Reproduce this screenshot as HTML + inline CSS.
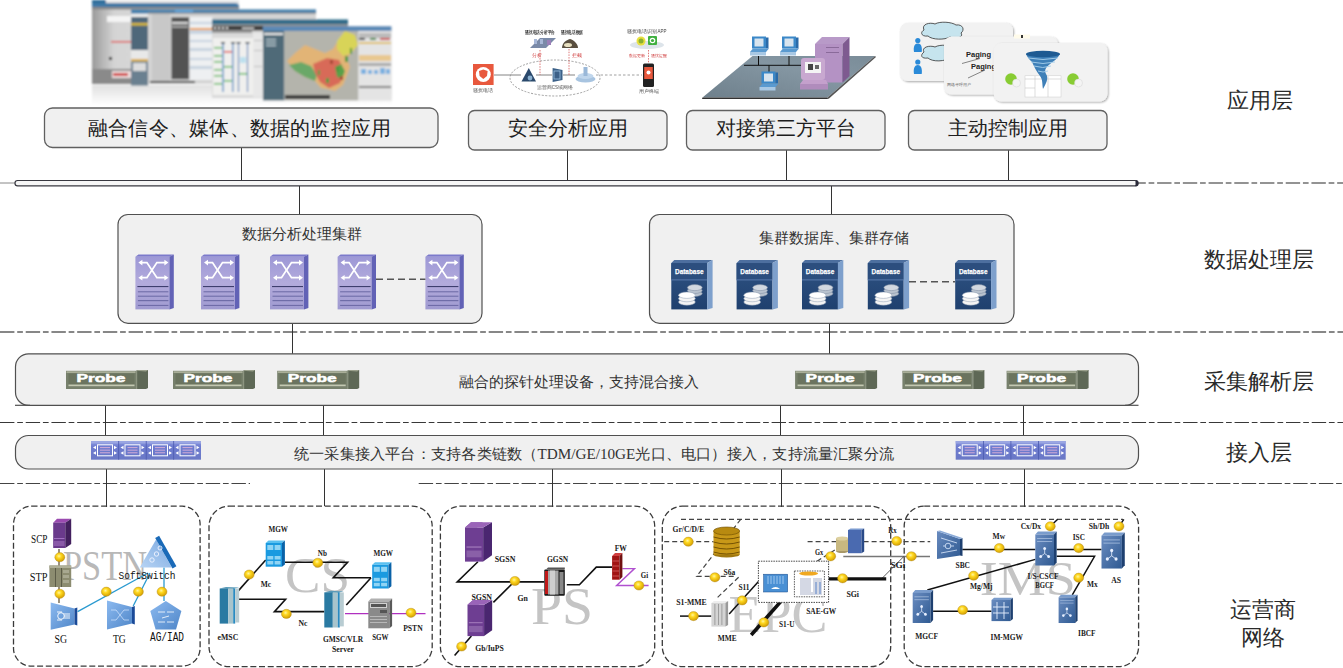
<!DOCTYPE html>
<html><head><meta charset="utf-8">
<style>
html,body{margin:0;padding:0;background:#fff;width:1343px;height:668px;overflow:hidden}
svg{display:block}
.sans{font-family:"Liberation Sans",sans-serif}
.serif{font-family:"Liberation Serif",serif}
</style></head><body>
<svg width="1343" height="668" viewBox="0 0 1343 668">
<defs>
<linearGradient id="swf" x1="0" y1="0" x2="0" y2="1"><stop offset="0" stop-color="#9d98d6"/><stop offset="0.5" stop-color="#b3abdc"/><stop offset="1" stop-color="#9f9ad0"/></linearGradient>
<linearGradient id="dbf" x1="0" y1="0" x2="0" y2="1"><stop offset="0" stop-color="#2f5384"/><stop offset="1" stop-color="#1f406e"/></linearGradient>
<linearGradient id="acf" x1="0" y1="0" x2="0" y2="1"><stop offset="0" stop-color="#8d9ae0"/><stop offset="0.3" stop-color="#6e7cd0"/><stop offset="1" stop-color="#6a78c6"/></linearGradient>
<g id="sw">
<polygon points="0,2.4 3,0 38.4,0 34,2.4" fill="#7c7acb"/>
<rect x="0" y="2.4" width="34" height="52.6" fill="url(#swf)"/>
<polygon points="34,2.4 38.4,0 38.4,53.6 34,55" fill="#6262b6"/>
<g stroke="#fff" stroke-width="1.8" fill="none">
<path d="M5,8.2 H11.5 L21.5,23.3 H31"/>
<path d="M5,23.3 H11.5 L21.5,8.2 H31"/>
</g>
<g fill="#fff">
<polygon points="3,8.2 7,5.4 7,11"/><polygon points="33,8.2 29,5.4 29,11"/>
<polygon points="3,23.3 7,20.5 7,26.1"/><polygon points="33,23.3 29,20.5 29,26.1"/>
</g>
<rect x="2" y="31.6" width="31" height="1.1" fill="#3e3e6e"/>
<g fill="#6a68a4"><rect x="2.5" y="36.9" width="30.5" height="1"/><rect x="2.5" y="41.3" width="30.5" height="1"/><rect x="2.5" y="45.7" width="30.5" height="1.1"/><rect x="2.5" y="50.5" width="30.5" height="1"/></g>
</g>
<g id="db">
<polygon points="0,3.1 3,0 41.3,0 35.9,3.1" fill="#4d6f9f"/>
<rect x="0" y="3.1" width="35.9" height="46.3" fill="url(#dbf)"/>
<rect x="0" y="3.1" width="35.9" height="16.6" fill="#2c4e7e"/>
<rect x="0" y="19.4" width="35.9" height="1" fill="#5a7aac"/>
<polygon points="35.9,3.1 41.3,0 41.3,48 35.9,49.4" fill="#7ea0cc"/>
<text x="18" y="14.3" font-family="Liberation Sans,sans-serif" font-weight="bold" font-size="7.6" stroke="#fff" stroke-width="0.25" textLength="28.5" lengthAdjust="spacingAndGlyphs" fill="#fff" text-anchor="middle">Database</text>
<g fill="#b9c3cf" stroke="#7c8aa0" stroke-width="0.5"><ellipse cx="23.5" cy="33.5" rx="7.4" ry="3"/><ellipse cx="23.5" cy="30.5" rx="7.4" ry="3"/><ellipse cx="23.5" cy="27.6" rx="7.4" ry="3" fill="#d2d8e0"/></g>
<g fill="#f4f4f4" stroke="#8a9ab0" stroke-width="0.5"><ellipse cx="15.6" cy="42" rx="8.4" ry="3.2"/><ellipse cx="15.6" cy="38.6" rx="8.4" ry="3.2"/><ellipse cx="15.6" cy="35.2" rx="8.4" ry="3.2" fill="#fff"/></g>
</g>
<g id="probe">
<rect x="0" y="0.8" width="70" height="18.2" fill="#77806c"/>
<rect x="0.5" y="1.3" width="69" height="1.6" fill="#aeb39e"/>
<rect x="2.5" y="3.5" width="66" height="10.5" fill="#6b745f"/>
<rect x="2.5" y="14.6" width="66" height="1.6" fill="#c4c8b2"/>
<polygon points="70,0.8 72,0 82,0 82,18 80,19 70,19" fill="#5e6856"/><polygon points="70,0.8 72,0 82,0 80,1.5" fill="#9aa08c"/><rect x="70" y="1" width="1.2" height="18" fill="#8c9480"/>
<text x="35" y="11.6" font-family="Liberation Sans,sans-serif" font-weight="bold" font-size="11" stroke="#fff" stroke-width="0.5" textLength="49" lengthAdjust="spacingAndGlyphs" fill="#fff" text-anchor="middle">Probe</text>
</g>
<g id="acu">
<rect x="6" y="3.8" width="15" height="11" fill="none" stroke="#fff" stroke-width="1"/>
<g fill="#c9a6d6"><rect x="8.5" y="6" width="10" height="1.1"/><rect x="8.5" y="8.6" width="10" height="1.1"/><rect x="8.5" y="11.2" width="10" height="1.1"/></g>
<g fill="#fff"><polygon points="1.5,6.5 4.5,4.8 4.5,8.2"/><polygon points="1.5,12 4.5,10.3 4.5,13.7"/><polygon points="25.5,6.5 22.5,4.8 22.5,8.2"/><polygon points="25.5,12 22.5,10.3 22.5,13.7"/></g>
</g>
<g id="acc">
<rect x="0" y="0" width="110" height="18.7" fill="url(#acf)"/>
<rect x="0" y="0" width="110" height="2.5" fill="#9aa6e2"/>
<rect x="27.3" y="0" width="0.8" height="18.7" fill="#4c5ab0"/><rect x="54.8" y="0" width="0.8" height="18.7" fill="#4c5ab0"/><rect x="82.3" y="0" width="0.8" height="18.7" fill="#4c5ab0"/>
<use href="#acu" x="0.5" y="0"/><use href="#acu" x="28" y="0"/><use href="#acu" x="55.5" y="0"/><use href="#acu" x="83" y="0"/>
</g>
<radialGradient id="gold" cx="0.42" cy="0.38" r="0.65"><stop offset="0" stop-color="#fff6a0"/><stop offset="0.35" stop-color="#ffd820"/><stop offset="1" stop-color="#d09a00"/></radialGradient>
<g id="dot"><ellipse cx="0" cy="0" rx="5" ry="4.6" fill="url(#gold)" stroke="#b08a20" stroke-width="0.4"/></g>
<linearGradient id="sgf" x1="0" y1="0" x2="1" y2="1"><stop offset="0" stop-color="#8cbaf0"/><stop offset="1" stop-color="#4f86c8"/></linearGradient>
<linearGradient id="imsf" x1="0" y1="0" x2="1" y2="1"><stop offset="0" stop-color="#6a8cc0"/><stop offset="1" stop-color="#2f5a92"/></linearGradient>
<g id="psrv">
<polygon points="0,3.9 4,0 12,0 8,3.9" fill="#8a5aaa"/>
<rect x="0" y="3.9" width="12.1" height="25.3" fill="#6e3e92"/>
<polygon points="12.1,3.9 18,0 18,24.5 12.1,29.2" fill="#4a2670"/>
<polygon points="0,3.9 4,0 18,0 12.1,3.9" fill="#9a64b8"/>
<rect x="1" y="18" width="10" height="0.8" fill="#a880c0"/><rect x="1" y="21" width="10" height="5" fill="#8a60a8"/>
</g>
<g id="ims">
<polygon points="0,3 3,0 24,0 21,3" fill="#7a9ccc"/>
<rect x="0" y="3" width="21" height="31" fill="url(#imsf)"/>
<polygon points="21,3 24,0 24,31 21,34" fill="#1e4070"/>
<g stroke="#b8cce8" stroke-width="0.7"><line x1="2" y1="7" x2="19" y2="7"/><line x1="2" y1="10" x2="19" y2="10"/></g>
<g fill="#e8f0ff"><circle cx="10.5" cy="17" r="1.6"/><circle cx="6" cy="25" r="1.6"/><circle cx="15" cy="25" r="1.6"/></g>
<path d="M10.5,18 V22 L6,25 M10.5,22 L15,25" stroke="#e8f0ff" stroke-width="0.8" fill="none"/>
</g>
</defs>
<!-- layer dashed separators -->
<g stroke-dasharray="14.4 2.8 5.7 2.82" fill="none">
<line x1="1131.4" y1="183" x2="1343" y2="183" stroke="#707070" stroke-width="1.6"/>
<line x1="0" y1="332" x2="1343" y2="332" stroke="#606060" stroke-width="1.6"/>
<line x1="0" y1="422.5" x2="1343" y2="422.5" stroke="#383838" stroke-width="1.2"/>
<line x1="0" y1="483.5" x2="250" y2="483.5" stroke="#444" stroke-width="1.2"/>
<line x1="418.7" y1="483.5" x2="1343" y2="483.5" stroke="#444" stroke-width="1.2"/>
</g>
<!-- connectors -->
<g stroke="#333" stroke-width="1">
<line x1="0" y1="183" x2="15" y2="183" stroke="#888"/>
<line x1="241.5" y1="148" x2="241.5" y2="180"/>
<line x1="567.5" y1="150" x2="567.5" y2="180"/>
<line x1="786.5" y1="150" x2="786.5" y2="180"/>
<line x1="1008.5" y1="150" x2="1008.5" y2="180"/>
<line x1="299.5" y1="186" x2="299.5" y2="214"/>
<line x1="831.5" y1="186" x2="831.5" y2="214"/>
<line x1="292.5" y1="323" x2="292.5" y2="354"/>
<line x1="829.5" y1="323" x2="829.5" y2="354"/>
<line x1="105.5" y1="405" x2="105.5" y2="436"/>
<line x1="323.5" y1="405" x2="323.5" y2="436"/>
<line x1="780.5" y1="405" x2="780.5" y2="436"/>
<line x1="1023.5" y1="405" x2="1023.5" y2="436"/>
<line x1="106.5" y1="469" x2="106.5" y2="507"/>
<line x1="324.5" y1="469" x2="324.5" y2="506"/>
<line x1="552.5" y1="469" x2="552.5" y2="507"/>
<line x1="781.5" y1="469" x2="781.5" y2="507"/>
<line x1="1024.5" y1="469" x2="1024.5" y2="507"/>
</g>
<!-- top images -->
<filter id="blr" x="-5%" y="-5%" width="110%" height="110%"><feGaussianBlur stdDeviation="0.8"/></filter>
<linearGradient id="refl" x1="0" y1="0" x2="0" y2="1"><stop offset="0" stop-color="#d8d8d8"/><stop offset="1" stop-color="#ffffff"/></linearGradient>
<linearGradient id="w1g" x1="0" y1="0" x2="1" y2="0"><stop offset="0" stop-color="#9a9a9a"/><stop offset="0.15" stop-color="#d4d4d4"/><stop offset="1" stop-color="#e4e4e4"/></linearGradient>
<g filter="url(#blr)">
<!-- reflections -->
<rect x="92" y="85" width="300" height="20" fill="url(#refl)" opacity="0.8"/>
<!-- window1 -->
<rect x="92" y="0" width="147" height="84" fill="url(#w1g)"/>
<rect x="92" y="0" width="147" height="3" fill="#e8e8e8"/><path d="M92,3 H235 Q239,3 239,7 H92 Z" fill="#3d78a6"/>
<rect x="92" y="0" width="14" height="3" fill="#2a6a98"/>
<rect x="92" y="7" width="147" height="2.5" fill="#888"/>
<rect x="92" y="69" width="40" height="15" fill="#8a8a8a"/>
<rect x="112" y="71" width="19" height="7" fill="#f0e0e0"/><rect x="113" y="73" width="15" height="3" fill="#d04040"/>
<rect x="111" y="41" width="22" height="1.5" fill="#e05050"/>
<rect x="107" y="16" width="24" height="6" fill="#f4f4f4"/>
<rect x="109" y="57" width="3" height="3" fill="#222"/>
<!-- slate panel -->
<rect x="131" y="14" width="17" height="36" fill="#50687a"/>
<rect x="131" y="14" width="17" height="3" fill="#eee"/>
<rect x="131" y="23" width="17" height="2.5" fill="#d8b830"/>
<rect x="131" y="50" width="17" height="9" fill="#e8e8e8"/>
<rect x="131" y="59" width="17" height="2.5" fill="#e0b030"/>
<rect x="131" y="61.5" width="17" height="24" fill="#6b8090"/>
<rect x="133" y="63" width="13" height="8" fill="#ddd"/>
<!-- window2 -->
<rect x="148" y="9.5" width="168" height="74" fill="#d4d4d4"/>
<rect x="131" y="9.5" width="185" height="4" fill="#3f7fae"/><rect x="175" y="9.5" width="18" height="3" fill="#5aa0d8"/>
<rect x="148" y="12.5" width="168" height="1.5" fill="#999"/>
<rect x="152" y="14" width="18" height="68" fill="#c8c8c8"/>
<rect x="171.4" y="17.3" width="18" height="62" fill="#535353"/>
<rect x="172" y="22" width="16" height="2" fill="#ddd"/><rect x="172" y="26" width="16" height="1.5" fill="#bbb"/>
<rect x="189.5" y="17" width="23" height="63" fill="#eef0f2"/>
<g fill="#c8d4e0"><rect x="190" y="22" width="22" height="2"/><rect x="190" y="30" width="22" height="4"/><rect x="190" y="40" width="22" height="2"/><rect x="190" y="48" width="22" height="3"/><rect x="190" y="58" width="22" height="2"/><rect x="190" y="66" width="22" height="3"/></g>
<rect x="190" y="28" width="22" height="2" fill="#f0a040"/>
<rect x="150" y="81" width="45" height="2" fill="#444"/>
<!-- window4 -->
<rect x="212" y="20" width="136" height="78" fill="#dadada"/>
<rect x="212" y="19.5" width="136" height="5" fill="#2e6a88"/>
<rect x="212" y="24.5" width="136" height="1.5" fill="#888"/>
<rect x="212" y="26" width="136" height="4.5" fill="#3c3c3c"/>
<g fill="#ddd"><rect x="214" y="27" width="2" height="2"/><rect x="218" y="27" width="2" height="2"/><rect x="222" y="27" width="2" height="2"/><rect x="226" y="27" width="2" height="2"/><rect x="242" y="27.5" width="12" height="1.5"/></g>
<rect x="212" y="31" width="40" height="2" fill="#999"/>
<rect x="213" y="38" width="40" height="57" fill="#f0f0ee"/>
<g stroke="#2a70b8" stroke-width="1.1"><line x1="223" y1="42.7" x2="223" y2="92"/><line x1="232.8" y1="42.7" x2="232.8" y2="92"/><line x1="238.5" y1="42.7" x2="238.5" y2="92"/><line x1="247.5" y1="42.7" x2="247.5" y2="92"/></g>
<g fill="#333"><rect x="221" y="42" width="4" height="1.5"/><rect x="231" y="42" width="4" height="1.5"/><rect x="236.5" y="42" width="4" height="1.5"/><rect x="245.5" y="42" width="4" height="1.5"/></g>
<g fill="#58b858"><rect x="214" y="47" width="8" height="1.5"/><rect x="214" y="55" width="8" height="1.5"/><rect x="214" y="61" width="8" height="1.5"/><rect x="214" y="69" width="8" height="1.5"/><rect x="214" y="75" width="8" height="1.5"/><rect x="214" y="83" width="8" height="1.5"/><rect x="224" y="66" width="8" height="1.5"/><rect x="239" y="73" width="8" height="1.5"/><rect x="224" y="80" width="8" height="1.5"/></g>
<rect x="224" y="51" width="8" height="1.5" fill="#e04040"/>
<rect x="240" y="57" width="6" height="6" fill="#bde0ee"/>
<rect x="253" y="33" width="10" height="64" fill="#e8e8e8"/>
<g fill="#bbb"><rect x="254" y="40" width="8" height="1"/><rect x="254" y="50" width="8" height="1"/><rect x="254" y="66" width="8" height="1"/></g>
<!-- map window -->
<rect x="263" y="26.3" width="128.4" height="74" fill="#dcdcdc"/>
<rect x="263" y="26.3" width="128.4" height="5" fill="#5a88b6"/>
<rect x="263" y="31" width="21.4" height="69.4" fill="#4f6a78"/>
<rect x="264" y="33" width="19" height="2" fill="#e8e8e8"/>
<g fill="#c8d8e0"><rect x="266" y="39" width="10" height="1"/><rect x="266" y="42" width="10" height="1"/><rect x="266" y="45" width="10" height="1"/></g>
<rect x="284.4" y="31" width="74" height="69.4" fill="#b4b4ac"/>
<polygon points="287.0,61.0 295.0,53.0 305.0,45.0 315.0,49.0 325.0,53.0 333.0,49.0 339.0,39.0 345.0,31.0 355.0,35.0 358.0,45.0 351.0,53.0 347.0,59.0 350.0,67.0 347.0,75.0 343.0,85.0 335.0,91.0 327.0,89.0 321.0,88.0 315.0,81.0 305.0,77.0 295.0,71.0" fill="#e2b476"/>
<polygon points="289.0,65.0 301.0,62.0 311.0,66.0 317.0,75.0 315.0,81.0 305.0,77.0 295.0,71.0" fill="#6aa868"/>
<polygon points="313.0,64.0 327.0,58.0 339.0,60.0 344.0,71.0 340.0,83.0 329.0,88.0 320.0,82.0 315.0,73.0" fill="#d86a58"/>
<polygon points="337.0,41.0 345.0,31.0 355.0,35.0 358.0,45.0 351.0,53.0 343.0,56.0 337.0,49.0" fill="#d8d458"/>
<polygon points="335.0,67.0 341.0,64.0 345.0,71.0 342.0,79.0 337.0,77.0" fill="#5aa048"/>
<g fill="#4c9a40"><rect x="336" y="66" width="3" height="6"/><rect x="345" y="56" width="3" height="6"/><rect x="326" y="78" width="3" height="5"/><rect x="350" y="48" width="2" height="6"/><rect x="318" y="70" width="2" height="5"/></g>
<g fill="#a84838"><rect x="330" y="60" width="3" height="4"/><rect x="340" y="76" width="3" height="4"/></g>
<rect x="285" y="95" width="45" height="4" fill="#3a3a3a"/>
<rect x="358.4" y="31" width="33" height="69.4" fill="#e4e4e4"/>
<rect x="359" y="33" width="32" height="5" fill="#bbb"/>
<rect x="359" y="38" width="6" height="2" fill="#333"/><rect x="370" y="38" width="6" height="2" fill="#3a8a3a"/><rect x="380" y="38" width="10" height="2" fill="#d04040"/>
<rect x="359" y="42" width="32" height="2" fill="#e0c060"/>
<rect x="359" y="55" width="32" height="6" fill="#e8c890"/>
<rect x="359" y="63" width="32" height="3" fill="#aaa"/>
<g fill="#7ab0e0"><rect x="361" y="69" width="5" height="5"/><rect x="368" y="70" width="4" height="4"/><rect x="374" y="70" width="4" height="4"/><rect x="380" y="68" width="5" height="6"/><rect x="386" y="69" width="4" height="5"/></g>
<rect x="359" y="86" width="32" height="2" fill="#777"/>
</g>
<!-- security image -->
<filter id="blr2" x="-5%" y="-5%" width="110%" height="110%"><feGaussianBlur stdDeviation="0.45"/></filter>
<g filter="url(#blr2)">
<rect x="473" y="64" width="20.6" height="21" fill="#e8583c"/>
<circle cx="483.3" cy="74.5" r="7.5" fill="#fff"/>
<path d="M479,71 L483.3,69.5 L487.6,71 L487,76 L483.3,79 L479.6,76 Z" fill="#e8583c"/>
<text x="483" y="92" font-family="Liberation Sans,sans-serif" font-size="4.5" fill="#555" text-anchor="middle">骚扰电话</text>
<line x1="494" y1="75" x2="521" y2="75" stroke="#666" stroke-width="0.8"/>
<ellipse cx="555" cy="78" rx="45" ry="18" fill="none" stroke="#888" stroke-width="0.8" stroke-dasharray="2 1.5"/>
<polygon points="521.5,81.5 528.8,68 536,81.5" fill="#2c4a6c"/>
<circle cx="530" cy="78" r="2.4" fill="#8ab0d0"/>
<line x1="536" y1="75" x2="552" y2="75" stroke="#666" stroke-width="0.8"/>
<polygon points="552.6,68 562.5,70 562.5,80 552.6,82" fill="#3a6088"/>
<rect x="554" y="71" width="6" height="8" fill="none" stroke="#9cc0e0" stroke-width="0.8"/>
<line x1="563" y1="75" x2="575" y2="75" stroke="#666" stroke-width="0.8"/>
<ellipse cx="585.5" cy="79" rx="10" ry="3.5" fill="#a8c4e0"/>
<ellipse cx="585.5" cy="76" rx="8" ry="3" fill="#c0d6ec"/>
<rect x="583.5" y="67" width="4" height="9" fill="#9ab8d8"/>
<line x1="596" y1="75" x2="642" y2="75" stroke="#888" stroke-width="0.8" stroke-dasharray="2.5 2"/>
<text x="555" y="88.5" font-family="Liberation Sans,sans-serif" font-size="4.5" fill="#555" text-anchor="middle">运营商CS域网络</text>
<polygon points="530,48 540,38 556,38 546,48" fill="#7a8aa8"/>
<rect x="534" y="39" width="3" height="5" fill="#a8b8d8"/><rect x="540" y="39" width="3" height="5" fill="#a8b8d8"/><rect x="547" y="40" width="4" height="5" fill="#9a80b8"/>
<path d="M562,48 C562,43 566,40 570,39 C574,40 578,44 578,48 Z" fill="#5a5040"/>
<ellipse cx="568" cy="45" rx="4" ry="2" fill="#e8e0c0"/>
<text x="540" y="34" font-family="Liberation Sans,sans-serif" font-weight="bold" font-size="4.5" fill="#333" text-anchor="middle" textLength="30" lengthAdjust="spacingAndGlyphs">骚扰电话分析平台</text>
<text x="572" y="34" font-family="Liberation Sans,sans-serif" font-weight="bold" font-size="4.5" fill="#333" text-anchor="middle" textLength="22" lengthAdjust="spacingAndGlyphs">骚扰电话数据</text>
<g stroke="#d04040" stroke-width="0.7" stroke-dasharray="1.5 1.2"><line x1="540" y1="50" x2="540" y2="75"/><line x1="569" y1="49" x2="569" y2="75"/><line x1="648.5" y1="50" x2="648.5" y2="63"/></g>
<text x="532" y="57" font-family="Liberation Sans,sans-serif" font-size="4.5" fill="#d04040">分析</text>
<text x="572" y="57" font-family="Liberation Sans,sans-serif" font-size="4.5" fill="#d04040">拦截</text>
<text x="629" y="57" font-family="Liberation Sans,sans-serif" font-size="4.2" fill="#d04040">数据更新</text>
<text x="651" y="57" font-family="Liberation Sans,sans-serif" font-size="4.2" fill="#d04040">骚扰提醒</text>
<rect x="643" y="63.4" width="11" height="23.6" rx="1.5" fill="#222"/>
<rect x="644.2" y="67" width="8.6" height="12" fill="#e8583c"/>
<circle cx="648.5" cy="72.5" r="2" fill="#fff"/>
<text x="648.5" y="93" font-family="Liberation Sans,sans-serif" font-size="4.5" fill="#555" text-anchor="middle">用户终端</text>
<ellipse cx="647" cy="45" rx="17" ry="4" fill="#dde4ea"/>
<circle cx="641" cy="41" r="4.5" fill="#e8e040"/><circle cx="641" cy="41" r="2.5" fill="#8ab030"/>
<rect x="648" y="36" width="9" height="9" rx="1" fill="#40b040"/><circle cx="652.5" cy="40.5" r="2.8" fill="#fff"/><circle cx="652.5" cy="40.5" r="1.6" fill="#40b040"/>
<text x="647" y="33" font-family="Liberation Sans,sans-serif" font-size="4.5" fill="#444" text-anchor="middle">骚扰电话识别APP</text>
</g>
<!-- network image -->
<g filter="url(#blr2)">
<linearGradient id="plat" x1="0" y1="1" x2="1" y2="0"><stop offset="0" stop-color="#6e808c"/><stop offset="0.6" stop-color="#8496a2"/><stop offset="1" stop-color="#7a8c98"/></linearGradient><polygon points="702.5,97.4 827.5,97.4 875,56 752.5,56" fill="url(#plat)"/>
<polygon points="702.5,97.4 827.5,97.4 828,99 702,99" fill="#333"/>
<polygon points="827.5,97.4 875,56 876,57 828.5,99" fill="#555"/>
<line x1="744" y1="65.3" x2="802.5" y2="65.3" stroke="#111" stroke-width="1"/>
<line x1="758.5" y1="56" x2="758.5" y2="65.3" stroke="#111" stroke-width="1"/>
<line x1="789" y1="56" x2="789" y2="65.3" stroke="#111" stroke-width="1"/>
<line x1="769" y1="65.3" x2="769" y2="72" stroke="#111" stroke-width="1"/>
<g id="pc1">
<rect x="752" y="36.5" width="14" height="12" fill="#3a88c8"/>
<rect x="754.5" y="38.5" width="9" height="8" fill="#d8e4ee"/>
<rect x="766" y="37.5" width="2.5" height="11" fill="#2a6aa8"/>
<polygon points="750,52 753,48.5 769,48.5 766,52" fill="#5a9ad0"/>
<rect x="750" y="52" width="16" height="3.5" fill="#a8c8e4"/>
</g>
<use href="#pc1" x="30" y="0"/>
<use href="#pc1" x="9.5" y="35"/>
<polygon points="815,44 822,37 849.5,37 842.5,44" fill="#b89ac8"/>
<rect x="815" y="44" width="27.5" height="38.5" fill="#b492c4"/>
<polygon points="842.5,44 849.5,37 849.5,76 842.5,82.5" fill="#7e5a90"/>
<rect x="826" y="47" width="13" height="1" fill="#8a6a9a"/><rect x="826" y="52" width="13" height="1" fill="#8a6a9a"/>
<rect x="801" y="58" width="24" height="22" rx="3" fill="#c8a8d0"/>
<rect x="805" y="62" width="16" height="11" fill="#f4f4f4"/>
<rect x="808" y="64" width="5" height="6" fill="#444"/><rect x="815" y="65" width="4" height="4" fill="#666"/>
<polygon points="800,84 803,80 826,80 828,84" fill="#c4a0cc"/>
<rect x="800" y="84" width="28" height="5.5" fill="#b08cbc"/>
</g>
<!-- cards image -->
<filter id="shd" x="-10%" y="-10%" width="130%" height="130%"><feGaussianBlur in="SourceAlpha" stdDeviation="1.2"/><feOffset dx="0.5" dy="1"/><feComponentTransfer><feFuncA type="linear" slope="0.35"/></feComponentTransfer><feMerge><feMergeNode/><feMergeNode in="SourceGraphic"/></feMerge></filter>
<g>
<rect x="900" y="22.7" width="113" height="58.3" rx="8" fill="#f2f2f2" filter="url(#shd)"/>
<path d="M924,30 C921,24 930,22 935,24 C940,21 952,22 956,25 C963,24 965,30 961,33 C964,37 956,40 950,37 C945,40 932,40 928,36 C921,37 920,32 924,30 Z" fill="#c6e4ee" stroke="#333" stroke-width="0.8"/>
<path d="M924,52 C921,47 930,45 935,47 C940,44 952,45 956,48 C960,50 958,56 952,57 C945,62 932,62 928,58 C921,59 920,55 924,52 Z" fill="#c6e4ee" stroke="#333" stroke-width="0.8"/>
<circle cx="917.8" cy="40.5" r="2.6" fill="#2a8ad8"/><path d="M914,52 C913,46 915,43.5 917.8,43.5 C920.6,43.5 922.5,46 921.7,52 Z" fill="#2a8ad8"/>
<circle cx="917.8" cy="62" r="2.6" fill="#2a8ad8"/><path d="M914,74 C913,68 915,65 917.8,65 C920.6,65 922.5,68 921.7,74 Z" fill="#2a8ad8"/>
<rect x="944" y="36.4" width="114" height="58.2" rx="8" fill="#f2f2f2" filter="url(#shd)"/>
<text x="966" y="57" font-family="Liberation Sans,sans-serif" font-weight="bold" font-size="7.5" fill="#222">Paging</text>
<text x="971" y="69" font-family="Liberation Sans,sans-serif" font-weight="bold" font-size="7.5" fill="#222">Paging</text>
<line x1="980" y1="58.5" x2="962" y2="63.5" stroke="#555" stroke-width="0.7"/>
<line x1="985" y1="70" x2="968" y2="78" stroke="#555" stroke-width="0.7"/>
<text x="947" y="86" font-family="Liberation Sans,sans-serif" font-size="4" fill="#666">网络寻呼用户</text>
<rect x="993.6" y="43" width="113.9" height="58.5" rx="8" fill="#f2f2f2" filter="url(#shd)"/>
<rect x="1014" y="34.5" width="16" height="4" fill="#fffbea"/><rect x="1021" y="35" width="2" height="3" fill="#333"/>
<rect x="1025" y="75.8" width="36" height="21.2" fill="#fff" stroke="#ccc" stroke-width="0.5"/>
<g stroke="#bbb" stroke-width="0.5"><line x1="1035" y1="76" x2="1035" y2="97"/><line x1="1048" y1="76" x2="1048" y2="97"/><line x1="1025" y1="79" x2="1061" y2="79"/><line x1="1025" y1="88" x2="1035" y2="88"/></g>
<path d="M1026,54 C1030,51 1056,51 1060,54 C1058,58 1054,61 1050,64 C1046,67 1044,70 1046,74 C1049,78 1046,84 1043,89 C1042,84 1043,80 1040,76 C1036,71 1034,66 1032,62 C1029,59 1027,57 1026,54 Z" fill="#3f80b8"/>
<ellipse cx="1043" cy="54" rx="17" ry="3.2" fill="#1e5a92"/>
<g stroke="#a8d0ec" stroke-width="0.9" fill="none"><path d="M1028,58 Q1043,61 1058,58"/><path d="M1031,62 Q1043,65 1055,62"/><path d="M1034,66 Q1043,69 1051,66"/><path d="M1038,71 Q1043,73 1048,71"/></g>
<circle cx="1011" cy="79" r="5.8" fill="#88cc33"/><circle cx="1016.5" cy="83" r="4" fill="#f4f4f4" stroke="#ccc" stroke-width="0.4"/>
<circle cx="1073" cy="79" r="5.8" fill="#88cc33"/><circle cx="1078.5" cy="83" r="4" fill="#f4f4f4" stroke="#ccc" stroke-width="0.4"/>
</g>
<!-- app boxes -->
<g fill="#f0f0f0" stroke="#606060" stroke-width="1.3">
<rect x="44.5" y="108" width="393.5" height="39.5" rx="8"/>
<rect x="468.5" y="110.5" width="198.5" height="39.5" rx="6"/>
<rect x="686.5" y="110.5" width="198.5" height="39.5" rx="6"/>
<rect x="908.5" y="110.5" width="198.5" height="39.5" rx="6"/>
</g>
<!-- bus bar -->
<rect x="15" y="180.5" width="1122.5" height="5.3" rx="2.6" fill="#f6f6f6" stroke="#383840" stroke-width="1.2"/><path d="M1135.5,180 A3,3 0 0 1 1135.5,186.4 Z" fill="#2a2a3a"/>
<!-- cluster boxes -->
<g fill="#f0f0f0" stroke="#505050" stroke-width="1.2">
<rect x="118" y="214.5" width="364" height="108.8" rx="10"/>
<rect x="649.5" y="214.5" width="364.5" height="108.8" rx="10"/>
<rect x="15.5" y="353.8" width="1123" height="51.5" rx="13"/>
<rect x="15.5" y="435.5" width="1123" height="33.5" rx="13"/>
</g>
<line x1="15" y1="405.3" x2="30" y2="405.3" stroke="#505050" stroke-width="1.2"/><line x1="1125" y1="405.3" x2="1138.5" y2="405.3" stroke="#505050" stroke-width="1.2"/>
<!-- network dashed boxes -->
<g fill="none" stroke="#3a3a3a" stroke-width="1.3" stroke-dasharray="6 2.7">
<rect x="13.5" y="506.2" width="186.6" height="160" rx="18"/>
<rect x="209" y="506.2" width="223.2" height="160.5" rx="20"/>
<rect x="440.4" y="506.2" width="214.3" height="160.5" rx="20"/>
<rect x="662.3" y="506.2" width="228.4" height="160.5" rx="20"/>
<rect x="904.2" y="506.2" width="234.4" height="160.5" rx="20"/>
</g>
<!-- data icons -->
<use href="#sw" x="135.4" y="254.4"/><use href="#sw" x="201" y="254.4"/><use href="#sw" x="270" y="254.4"/><use href="#sw" x="337.6" y="254.4"/><use href="#sw" x="425.4" y="254.4"/>
<line x1="376" y1="279.2" x2="425.4" y2="279.2" stroke="#555" stroke-width="1.5" stroke-dasharray="7 4"/>
<use href="#db" x="671.3" y="260"/><use href="#db" x="736.6" y="260"/><use href="#db" x="802" y="260"/><use href="#db" x="867.8" y="260"/><use href="#db" x="955.2" y="260"/>
<line x1="909" y1="281.8" x2="955" y2="281.8" stroke="#555" stroke-width="1.5" stroke-dasharray="7 4"/>
<use href="#probe" x="66" y="370"/><use href="#probe" x="173" y="370"/><use href="#probe" x="277.2" y="370"/>
<use href="#probe" x="795.1" y="370"/><use href="#probe" x="902.4" y="370"/><use href="#probe" x="1006.6" y="370"/>
<use href="#acc" x="91" y="441"/><use href="#acc" x="955.7" y="441"/>
<!-- PSTN -->
<text x="63" y="580" font-family="Liberation Serif,serif" font-size="43" fill="#b8b8b8" textLength="84" lengthAdjust="spacingAndGlyphs">PSTN</text>
<g stroke="#2a9ad0" stroke-width="1.3" fill="none">
<line x1="77.6" y1="611.6" x2="148" y2="573"/>
<line x1="133.2" y1="606" x2="150" y2="573"/>
<line x1="164" y1="601" x2="164" y2="567.6"/>
</g>
<line x1="59" y1="549" x2="59" y2="603" stroke="#5a4a2a" stroke-width="1.2"/>
<g>
<polygon points="53.2,522.7 57,518.8 71.2,518.8 65.3,522.7" fill="#9a4ab0"/>
<rect x="53.2" y="522.7" width="12.1" height="25.3" fill="#6a3a8c"/>
<polygon points="65.3,522.7 71.2,518.8 71.2,544 65.3,548" fill="#43205e"/>
<rect x="54" y="538" width="10.5" height="1" fill="#a070c0"/><rect x="54" y="541" width="10.5" height="5" fill="#8a5aa8"/>
</g>
<g>
<rect x="49.4" y="565.5" width="21.8" height="21.5" fill="#8c8c70"/>
<rect x="49.4" y="565.5" width="21.8" height="2.5" fill="#b0b098"/>
<g fill="#5c5c48"><rect x="55" y="568" width="1" height="19"/><rect x="61" y="568" width="1" height="19"/></g>
<g fill="#a8a890"><rect x="63" y="570" width="6" height="3"/><rect x="63" y="575" width="6" height="3"/><rect x="63" y="580" width="6" height="3"/></g>
</g>
<polygon points="50.7,602.5 74.5,608.5 74.5,624.5 50.7,629.8" fill="url(#sgf)"/>
<polygon points="74.5,608.5 77.3,607.5 77.3,625.5 74.5,624.5" fill="#1a4a98"/>
<g stroke="#fff" stroke-width="0.9" fill="none"><path d="M57,612 L62,612 M57,620 L62,620"/><circle cx="61" cy="616" r="3.3"/><path d="M65,613 V619 M67,613 V619 M69,613 V619"/></g>
<polygon points="107,600.5 132,607 132,623.5 107,629.4" fill="url(#sgf)"/>
<polygon points="132,607 134.8,606 134.8,624.5 132,623.5" fill="#1a4a98"/>
<path d="M111,610 L116,610 L124,620 L129,620 M111,620 L116,620 L124,610 L129,610" stroke="#d8e8ff" stroke-width="0.7" fill="none"/>
<polygon points="165.8,601 181.4,611 176,629.4 155.6,629.4 150.3,611" fill="url(#sgf)"/>
<g stroke="#fff" stroke-width="0.8"><line x1="158" y1="612" x2="165" y2="612"/><line x1="167" y1="612" x2="174" y2="612"/><line x1="158" y1="622" x2="165" y2="622"/><line x1="167" y1="622" x2="174" y2="622"/><line x1="162" y1="618" x2="169" y2="616"/></g>
<linearGradient id="ssf" x1="0" y1="1" x2="1" y2="0"><stop offset="0" stop-color="#b8d4f4"/><stop offset="1" stop-color="#7aa8e0"/></linearGradient>
<polygon points="139.8,567.6 156.1,539.6 171.8,567.6" fill="url(#ssf)"/>
<polygon points="155.2,538 159.1,535.8 176.4,566.3 172.5,568.5" fill="#1a6ab8"/>
<g fill="none" stroke="#f0f4ff" stroke-width="0.9"><circle cx="152" cy="560" r="2.2"/><circle cx="156.5" cy="554" r="2.2"/><circle cx="160" cy="548" r="2"/></g>
<use href="#dot" x="59.8" y="557.2"/><use href="#dot" x="59.8" y="593.8"/>
<use href="#dot" x="106.3" y="591.7"/><use href="#dot" x="138.4" y="591.7"/><use href="#dot" x="162" y="591.7"/>
<g font-family="Liberation Serif,serif" font-size="12.5" fill="#111">
<text x="31" y="542.5" textLength="16.5" lengthAdjust="spacingAndGlyphs">SCP</text>
<text x="29.7" y="581" textLength="17.8" lengthAdjust="spacingAndGlyphs">STP</text>
<text x="54.6" y="643" textLength="12.5" lengthAdjust="spacingAndGlyphs">SG</text>
<text x="113" y="643" textLength="12.8" lengthAdjust="spacingAndGlyphs">TG</text>
<text x="150" y="641" font-family="Liberation Mono,monospace" font-size="12" textLength="34" lengthAdjust="spacingAndGlyphs">AG/IAD</text>
</g>
<text x="118.5" y="578.5" font-family="Liberation Mono,monospace" font-size="11.5" fill="#111" textLength="57" lengthAdjust="spacingAndGlyphs">SoftSwitch</text>

<!-- CS -->
<text x="285" y="592" font-family="Liberation Serif,serif" font-size="50" fill="#c4c4c4" textLength="65" lengthAdjust="spacingAndGlyphs">CS</text>
<g stroke="#111" stroke-width="1.6" fill="none">
<polyline points="238.5,590.6 265.7,560"/>
<polyline points="284.9,562.2 347.6,562.2 333.3,577.8 371,577.8"/>
<polyline points="239,599.2 285.6,599.2 274.4,611.6 324.3,611.6"/>
<polyline points="346.3,605 371,577.8"/>
</g>
<line x1="345" y1="613.6" x2="425.5" y2="613.6" stroke="#b030c0" stroke-width="1.2"/>
<g>
<polygon points="265.7,543 268.5,540.5 284.9,540.5 282,543" fill="#5ac0f0"/>
<rect x="265.7" y="543" width="16.3" height="23.7" fill="#1a9ae0"/>
<polygon points="282,543 284.9,540.5 284.9,564.5 282,566.7" fill="#0a62a8"/>
<g fill="#90d4f4"><rect x="267.3" y="545" width="6" height="5"/><rect x="274.6" y="545" width="6" height="5"/><rect x="267.3" y="556" width="6" height="3.5"/><rect x="274.6" y="556" width="6" height="3.5"/><rect x="267.3" y="561" width="6" height="3.5"/><rect x="274.6" y="561" width="6" height="3.5"/></g>
</g>
<g transform="translate(106.5,21.8)">
<polygon points="265.7,543 268.5,540.5 284.9,540.5 282,543" fill="#5ac0f0"/>
<rect x="265.7" y="543" width="16.3" height="23.7" fill="#1a9ae0"/>
<polygon points="282,543 284.9,540.5 284.9,564.5 282,566.7" fill="#0a62a8"/>
<g fill="#90d4f4"><rect x="267.3" y="545" width="6" height="5"/><rect x="274.6" y="545" width="6" height="5"/><rect x="267.3" y="556" width="6" height="3.5"/><rect x="274.6" y="556" width="6" height="3.5"/><rect x="267.3" y="561" width="6" height="3.5"/><rect x="274.6" y="561" width="6" height="3.5"/></g>
</g>
<g id="cab">
<polygon points="219.7,588.5 226,586.9 239.2,587.5 233,589" fill="#5a9ab8"/>
<rect x="219.7" y="588.5" width="8.5" height="35.1" fill="#2a7aa2"/>
<rect x="228.2" y="588.5" width="5" height="35.1" fill="#a8c4cc"/>
<rect x="233.2" y="588.5" width="2" height="35.1" fill="#2a8ac0"/>
<rect x="235.2" y="588.5" width="4" height="34" fill="#b8ccd2"/>
</g>
<use href="#cab" x="104.6" y="3.9"/>
<g>
<polygon points="368.3,601.5 371,598.6 392.1,598.6 389.5,601.5" fill="#b0b0b0"/>
<rect x="368.3" y="601.5" width="21.2" height="26.8" fill="#8a8a8a"/>
<polygon points="389.5,601.5 392.1,598.6 392.1,626 389.5,628.3" fill="#5a5a5a"/>
<rect x="370" y="603" width="17" height="5" fill="#d0d0d0"/><rect x="371" y="604" width="15" height="3" fill="#555"/>
<rect x="380" y="610" width="7" height="3" fill="#555"/>
<g fill="#b8b8b8"><rect x="370" y="616" width="17" height="1"/><rect x="370" y="619" width="17" height="1"/><rect x="370" y="622" width="17" height="1"/></g>
</g>
<use href="#dot" x="249.2" y="574.6"/><use href="#dot" x="317.8" y="562.8"/><use href="#dot" x="286.4" y="613.9"/><use href="#dot" x="411" y="612.8"/>
<g font-family="Liberation Serif,serif" font-weight="bold" font-size="8.8" fill="#1a1a1a">
<text x="268.6" y="532" textLength="19.4" lengthAdjust="spacingAndGlyphs">MGW</text>
<text x="373.5" y="555.5" textLength="19.5" lengthAdjust="spacingAndGlyphs">MGW</text>
<text x="260.8" y="586.5" textLength="10.4" lengthAdjust="spacingAndGlyphs">Mc</text>
<text x="317.8" y="555.5" textLength="9.1" lengthAdjust="spacingAndGlyphs">Nb</text>
<text x="298.4" y="625.8" textLength="9" lengthAdjust="spacingAndGlyphs">Nc</text>
<text x="217.6" y="639.5" textLength="20.7" lengthAdjust="spacingAndGlyphs">eMSC</text>
<text x="323" y="642" textLength="40" lengthAdjust="spacingAndGlyphs">GMSC/VLR</text>
<text x="332" y="652" textLength="22" lengthAdjust="spacingAndGlyphs">Server</text>
<text x="372.2" y="639.5" textLength="16.3" lengthAdjust="spacingAndGlyphs">SGW</text>
<text x="403.2" y="630.5" textLength="19.5" lengthAdjust="spacingAndGlyphs">PSTN</text>
</g>
<!-- PS -->
<text x="531" y="624" font-family="Liberation Serif,serif" font-size="52" fill="#c4c4c4" textLength="62" lengthAdjust="spacingAndGlyphs">PS</text>
<g stroke="#111" stroke-width="1.6" fill="none">
<polyline points="477.9,561.8 457.2,581.9 544.3,581.9"/>
<polyline points="514.9,581 493.4,602.4"/>
<polyline points="471.4,636.1 454.6,655.5"/>
<polyline points="566.8,584.7 579.4,584.7 596.3,567.1 612,567.1"/>
</g>
<polyline points="622.4,568.6 634.5,568.6 616.6,585.5 648.6,585.5" stroke="#b050d0" stroke-width="1.4" fill="none"/>
<use href="#psrv" x="465" y="522.2" transform="translate(465,522.2) scale(1.5,1.35) translate(-465,-522.2)"/>
<use href="#psrv" x="467.5" y="599.9" transform="translate(467.5,599.9) scale(1.37,1.24) translate(-467.5,-599.9)"/>
<g>
<rect x="544.3" y="569.5" width="20.5" height="26.2" rx="1" fill="#1a1a1a"/>
<rect x="545" y="571" width="3" height="23" fill="#c01818"/>
<rect x="548" y="570.5" width="10.5" height="24" fill="#a8a8a8"/>
<rect x="550" y="570.5" width="5" height="24" fill="#cfcfcf"/>
<rect x="559.5" y="572" width="4" height="22" fill="#888"/>
<polygon points="546,569.5 548,567.6 564.8,567.6 564.8,569.5" fill="#555"/>
</g>
<g>
<polygon points="612.1,556 615,553 622.4,553 619.5,556" fill="#d04040"/>
<rect x="612.1" y="556" width="7.4" height="23.7" fill="#a01414"/>
<polygon points="619.5,556 622.4,553 622.4,577 619.5,579.7" fill="#701010"/>
<g stroke="#e07070" stroke-width="0.7"><line x1="612.5" y1="561" x2="619" y2="561"/><line x1="612.5" y1="566" x2="619" y2="566"/><line x1="612.5" y1="571" x2="619" y2="571"/><line x1="612.5" y1="576" x2="619" y2="576"/></g>
</g>
<use href="#dot" x="514.9" y="581"/><use href="#dot" x="461.6" y="646.5"/><use href="#dot" x="638.9" y="585.5"/>
<g font-family="Liberation Serif,serif" font-weight="bold" font-size="8.8" fill="#1a1a1a">
<text x="494.7" y="562" textLength="20.7" lengthAdjust="spacingAndGlyphs">SGSN</text>
<text x="471.4" y="600" textLength="20.7" lengthAdjust="spacingAndGlyphs">SGSN</text>
<text x="547" y="562" textLength="21.2" lengthAdjust="spacingAndGlyphs">GGSN</text>
<text x="614.7" y="551.2" textLength="12.1" lengthAdjust="spacingAndGlyphs">FW</text>
<text x="640.8" y="578" textLength="7.3" lengthAdjust="spacingAndGlyphs">Gi</text>
<text x="517.5" y="601" textLength="10.4" lengthAdjust="spacingAndGlyphs">Gn</text>
<text x="475.3" y="651.2" textLength="28.5" lengthAdjust="spacingAndGlyphs">Gb/IuPS</text>
</g>
<!-- EPC -->
<text x="728.5" y="632" font-family="Liberation Serif,serif" font-size="52" fill="#c8c8c8" textLength="99" lengthAdjust="spacingAndGlyphs">EPC</text>
<g stroke="#444" stroke-width="1.2" stroke-dasharray="5 3" fill="none">
<line x1="681" y1="519.3" x2="1123" y2="519.3"/>
<line x1="664.2" y1="541.7" x2="713.5" y2="541.7"/>
<line x1="807.6" y1="541.7" x2="930.2" y2="541.7"/>
<polyline points="740.7,519.3 696.7,576.3 736.5,576.3"/>
<line x1="738.6" y1="577.3" x2="716.6" y2="598.3"/>
<line x1="817" y1="561.2" x2="838" y2="548"/>
</g>
<line x1="843.3" y1="556.5" x2="930" y2="556.5" stroke="#777" stroke-width="1.3"/>
<line x1="881.6" y1="578.8" x2="904" y2="556.3" stroke="#333" stroke-width="0.8"/>
<line x1="680" y1="616.1" x2="711.4" y2="616.1" stroke="#111" stroke-width="1.5"/>
<line x1="729.2" y1="614" x2="758.5" y2="581.5" stroke="#111" stroke-width="1.5"/>
<line x1="751.2" y1="635" x2="780.5" y2="601.9" stroke="#111" stroke-width="3.6"/>
<line x1="828.6" y1="578.8" x2="886.2" y2="578.8" stroke="#111" stroke-width="3.2"/>
<g>
<ellipse cx="726.6" cy="554.5" rx="13.1" ry="3" fill="#a07810"/>
<rect x="713.5" y="531" width="26.2" height="23.5" fill="#c89818"/>
<g stroke="#6a4a00" stroke-width="0.9" fill="none"><path d="M713.5,537 Q726.6,541 739.7,537"/><path d="M713.5,542 Q726.6,546 739.7,542"/><path d="M713.5,547 Q726.6,551 739.7,547"/><path d="M713.5,552 Q726.6,556 739.7,552"/></g>
<ellipse cx="726.6" cy="531" rx="13.1" ry="4" fill="#b88a10" stroke="#6a4a00" stroke-width="0.6"/>
</g>
<g>
<rect x="711.4" y="603" width="14" height="23.6" fill="#d4d4d4"/>
<polygon points="711.4,603 714,601 728.1,601 725.4,603" fill="#eee"/>
<polygon points="725.4,603 728.1,601 728.1,625 725.4,626.6" fill="#9a9a9a"/>
<g fill="#909090"><rect x="714.5" y="604" width="0.8" height="21"/><rect x="718" y="604" width="0.8" height="21"/><rect x="721.5" y="604" width="0.8" height="21"/></g>
</g>
<rect x="758.4" y="561.2" width="70.2" height="41.2" fill="#fff" stroke="#333" stroke-width="0.9" stroke-dasharray="1.5 1"/>
<rect x="763.6" y="574.2" width="24.1" height="17.8" fill="#4a90d4" stroke="#1a4a88" stroke-width="0.5"/>
<g stroke="#d8ecff" stroke-width="0.6"><line x1="768" y1="576" x2="768" y2="584"/><line x1="771" y1="576" x2="771" y2="584"/><line x1="774" y1="576" x2="774" y2="584"/><line x1="777" y1="576" x2="777" y2="584"/><line x1="780" y1="576" x2="780" y2="584"/><line x1="783" y1="576" x2="783" y2="584"/></g>
<path d="M771,589 Q775.6,585 780,589 Z" fill="#fff"/>
<rect x="794.4" y="571" width="30" height="25.8" fill="#fff" stroke="#333" stroke-width="0.8" stroke-dasharray="1.5 1"/>
<ellipse cx="808.6" cy="573.5" rx="9.5" ry="2" fill="#f0a820"/>
<rect x="800" y="578" width="22" height="17" fill="#d4d8e4"/>
<rect x="811" y="578" width="2" height="14" fill="#fff"/>
<g stroke="#3a70c0" stroke-width="0.8"><line x1="816" y1="582" x2="816" y2="594"/><line x1="820" y1="582" x2="820" y2="594"/></g>
<g>
<ellipse cx="842.2" cy="551" rx="6.3" ry="2" fill="#a89868"/>
<rect x="836" y="538.5" width="12.5" height="12.5" fill="#c8b880"/>
<ellipse cx="842.2" cy="538.5" rx="6.3" ry="2" fill="#ddd0a0"/>
<rect x="848" y="530" width="13.5" height="23.2" fill="#4a6ab0"/>
<polygon points="848,530 850.5,528.5 864.2,528.5 861.5,530" fill="#7a9ad0"/>
<polygon points="861.5,530 864.2,528.5 864.2,551.5 861.5,553.2" fill="#2a4a88"/>
</g>
<use href="#dot" x="688.3" y="541.7"/><use href="#dot" x="714.9" y="577.3"/><use href="#dot" x="693.5" y="616.1"/><use href="#dot" x="742.2" y="600.4"/><use href="#dot" x="763.8" y="622.4"/>
<use href="#dot" x="842.6" y="578.3"/><use href="#dot" x="830.7" y="556.3"/><use href="#dot" x="896.7" y="541"/><use href="#dot" x="911.4" y="556.3"/>
<g font-family="Liberation Serif,serif" font-weight="bold" font-size="8.6" fill="#1a1a1a">
<text x="672.6" y="532" textLength="31.6" lengthAdjust="spacingAndGlyphs">Gr/C/D/E</text>
<text x="723.6" y="575" textLength="11.7" lengthAdjust="spacingAndGlyphs">S6a</text>
<text x="676.2" y="604.5" textLength="30.6" lengthAdjust="spacingAndGlyphs">S1-MME</text>
<text x="738.4" y="589.5" textLength="11.1" lengthAdjust="spacingAndGlyphs">S11</text>
<text x="717.7" y="640.5" textLength="18.9" lengthAdjust="spacingAndGlyphs">MME</text>
<text x="779" y="627" textLength="15.4" lengthAdjust="spacingAndGlyphs">S1-U</text>
<text x="806.2" y="613.5" textLength="30.1" lengthAdjust="spacingAndGlyphs">SAE-GW</text>
<text x="846.4" y="597" textLength="12.6" lengthAdjust="spacingAndGlyphs">SGi</text>
<text x="815" y="555" textLength="8.3" lengthAdjust="spacingAndGlyphs">Gx</text>
<text x="888.3" y="532.5" textLength="8.4" lengthAdjust="spacingAndGlyphs">Rx</text>
<text x="890.4" y="568" textLength="15" lengthAdjust="spacingAndGlyphs">SGi</text>
</g>

<!-- IMS -->
<text x="979.8" y="595" font-family="Liberation Serif,serif" font-size="49" fill="#c4c4c4" textLength="96" lengthAdjust="spacingAndGlyphs">IMS</text>
<g stroke="#111" stroke-width="1.5" fill="none">
<line x1="962.3" y1="549.6" x2="1035.3" y2="549.6"/>
<line x1="1056.7" y1="549.6" x2="1101.5" y2="549.6"/>
<polyline points="1056.7,556.3 1094.6,556.3 1072.3,594.8"/>
<line x1="927.3" y1="590" x2="1035.3" y2="559.4"/>
<line x1="933.1" y1="611.3" x2="991.5" y2="611.3"/>
<line x1="1050.3" y1="526.3" x2="1057.7" y2="519.3"/>
<line x1="1119" y1="526.3" x2="1123.8" y2="519.3"/>
</g>
<g>
<polygon points="937,531 960,539 960,555.5 937,559" fill="url(#imsf)"/>
<polygon points="960,539 962.5,538 962.5,556 960,555.5" fill="#1e4070"/>
<polygon points="937,531 940,530.5 962.5,538 960,539" fill="#8aaad8"/>
<g stroke="#e0ecff" stroke-width="0.8" fill="none"><line x1="941" y1="538" x2="957" y2="543"/><line x1="941" y1="553" x2="957" y2="550"/><circle cx="948" cy="546" r="2.8"/><path d="M943,546 H945 M951,546 H954"/></g>
</g>
<use href="#ims" x="1035.3" y="531.5" transform="translate(1035.3,531.5) scale(0.89,1) translate(-1035.3,-531.5)"/>
<use href="#ims" x="1101.5" y="532.5" transform="translate(1101.5,532.5) scale(0.97,1.06) translate(-1101.5,-532.5)"/>
<use href="#ims" x="912.7" y="590" transform="translate(912.7,590) scale(0.85,0.97) translate(-912.7,-590)"/>
<use href="#ims" x="1058.6" y="594.8" transform="translate(1058.6,594.8) scale(0.79,0.83) translate(-1058.6,-594.8)"/>
<g>
<polygon points="991.5,600 994,597.7 1012.9,597.7 1010.4,600" fill="#7a9ccc"/>
<rect x="991.5" y="600" width="18.9" height="21.1" fill="url(#imsf)"/>
<polygon points="1010.4,600 1012.9,597.7 1012.9,619 1010.4,621.1" fill="#1e4070"/>
<g stroke="#e8f0ff" stroke-width="0.9"><line x1="997" y1="602" x2="997" y2="619"/><line x1="1004" y1="602" x2="1004" y2="619"/><line x1="993" y1="607" x2="1009" y2="607"/><line x1="993" y1="613" x2="1009" y2="613"/></g>
</g>
<use href="#dot" x="999.3" y="548.1"/><use href="#dot" x="1078.7" y="548.1"/><use href="#dot" x="1078.7" y="577.7"/><use href="#dot" x="973.6" y="575.7"/><use href="#dot" x="962.7" y="610"/><use href="#dot" x="1050.3" y="526.3"/><use href="#dot" x="1119" y="526.3"/>
<g font-family="Liberation Serif,serif" font-weight="bold" font-size="8.6" fill="#1a1a1a">
<text x="955.5" y="568" textLength="14.5" lengthAdjust="spacingAndGlyphs">SBC</text>
<text x="992.5" y="539" textLength="12.6" lengthAdjust="spacingAndGlyphs">Mw</text>
<text x="1020.7" y="529" textLength="20.4" lengthAdjust="spacingAndGlyphs">Cx/Dx</text>
<text x="1088.8" y="529" textLength="20.4" lengthAdjust="spacingAndGlyphs">Sh/Dh</text>
<text x="1072.8" y="540" textLength="12.1" lengthAdjust="spacingAndGlyphs">ISC</text>
<text x="1027.5" y="579" textLength="31.1" lengthAdjust="spacingAndGlyphs">I/S-CSCF</text>
<text x="1035.3" y="587.5" textLength="18.5" lengthAdjust="spacingAndGlyphs">BGCF</text>
<text x="1111.2" y="582.5" textLength="9.8" lengthAdjust="spacingAndGlyphs">AS</text>
<text x="970" y="588.5" textLength="22.5" lengthAdjust="spacingAndGlyphs">Mg/Mj</text>
<text x="1086.9" y="587" textLength="10.7" lengthAdjust="spacingAndGlyphs">Mx</text>
<text x="915.2" y="639" textLength="22.8" lengthAdjust="spacingAndGlyphs">MGCF</text>
<text x="990.5" y="640" textLength="32.5" lengthAdjust="spacingAndGlyphs">IM-MGW</text>
<text x="1078.1" y="636" textLength="17.5" lengthAdjust="spacingAndGlyphs">IBCF</text>
</g>
<!-- texts -->
<g class="sans" fill="#1e1e1e" font-size="20" font-weight="300">
<text x="239.5" y="135" text-anchor="middle" textLength="303" lengthAdjust="spacing">融合信令、媒体、数据的监控应用</text>
<text x="567.5" y="135" text-anchor="middle">安全分析应用</text>
<text x="786" y="135" text-anchor="middle">对接第三方平台</text>
<text x="1008" y="135" text-anchor="middle">主动控制应用</text>
</g>
<g class="sans" fill="#2a2a2a" font-size="22" font-weight="300">
<text x="1260" y="108" text-anchor="middle">应用层</text>
<text x="1259" y="267" text-anchor="middle">数据处理层</text>
<text x="1259" y="389" text-anchor="middle">采集解析层</text>
<text x="1259" y="460" text-anchor="middle">接入层</text>
<text x="1263" y="617" text-anchor="middle">运营商</text>
<text x="1263" y="645" text-anchor="middle">网络</text>
</g>
<g class="serif" fill="#333" font-size="15" font-weight="300">
<text x="301.5" y="239" text-anchor="middle">数据分析处理集群</text>
<text x="833.5" y="243" text-anchor="middle">集群数据库、集群存储</text>
<text x="579" y="387" text-anchor="middle">融合的探针处理设备，支持混合接入</text>
<text x="594" y="459" text-anchor="middle" textLength="600" lengthAdjust="spacingAndGlyphs">统一采集接入平台：支持各类链数（TDM/GE/10GE光口、电口）接入，支持流量汇聚分流</text>
</g>
</svg>
</body></html>
